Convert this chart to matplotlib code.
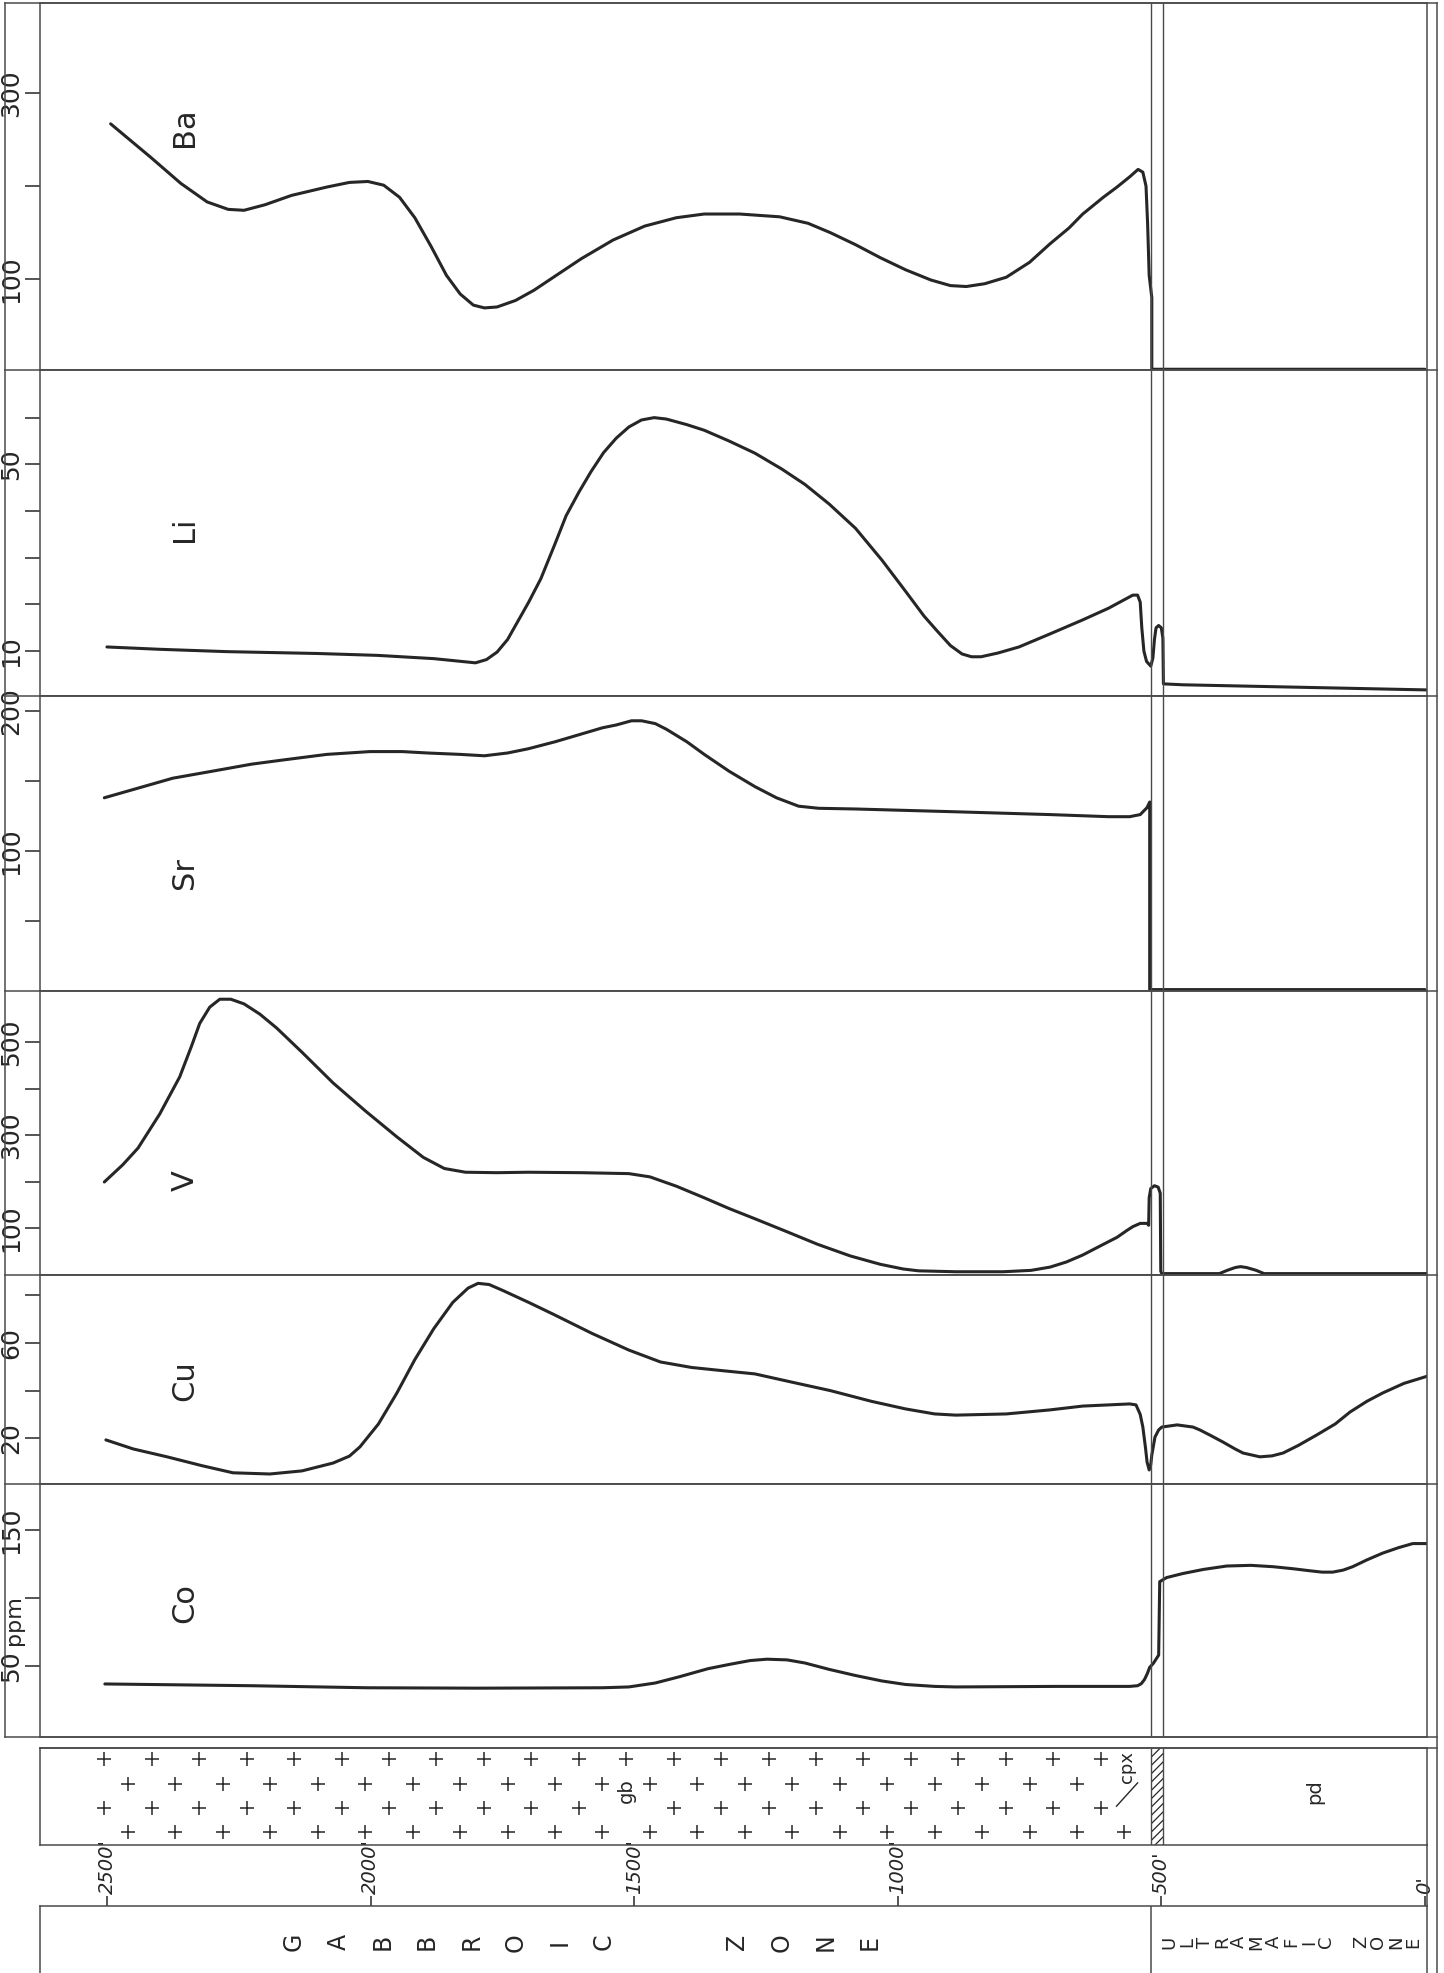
import numpy as np
import matplotlib
matplotlib.use('Agg')
import matplotlib.pyplot as plt

plt.rcParams['font.family'] = 'DejaVu Sans'
plt.rcParams['hatch.linewidth'] = 0.9

W, H = 1444, 1973
ink = '#262626'
frame = '#4a4a4a'

# depth in feet, ppm values
ba_depth = [2493, 2417, 2360, 2310, 2270, 2240, 2200, 2150, 2083, 2040, 2005, 1975, 1945, 1916,
            1885, 1856, 1830, 1805, 1784, 1760, 1725, 1690, 1653, 1600, 1540, 1480, 1420, 1367,
            1300, 1224, 1170, 1128, 1080, 1033, 985, 937, 900, 870, 835, 794, 750, 711, 675, 649,
            610, 584, 560, 544, 535, 529, 526, 523, 518, 518, 0]
ba_ppm = [267, 231, 203, 183, 175, 174, 180, 190, 199, 204, 205, 201, 188, 166,
          135, 104, 84, 72, 69, 70, 77, 88, 102, 122, 142, 157, 166, 170,
          170, 167, 160, 150, 137, 123, 110, 99, 93, 92, 95, 102, 118, 138, 155, 170,
          188, 199, 210, 218, 215, 200, 160, 104, 80, 3, 3]

li_depth = [2500, 2400, 2273, 2100, 1987, 1880, 1801, 1780, 1760, 1740, 1725, 1700, 1677, 1650,
            1629, 1605, 1582, 1558, 1534, 1510, 1486, 1462, 1439, 1400, 1367, 1320, 1271, 1220,
            1176, 1130, 1080, 1030, 985, 950, 925, 900, 878, 860, 842, 810, 770, 711, 649, 600,
            554, 545, 540, 537, 533, 528, 520, 516, 513, 510, 505, 500, 497, 496, 459, -4]
li_ppm = [10.9, 10.4, 9.9, 9.5, 9.1, 8.4, 7.5, 8.2, 9.8, 12.5, 15.5, 20.5, 25.5, 33,
          39, 44, 48.4, 52.5, 55.6, 58, 59.5, 60, 59.7, 58.5, 57.3, 55, 52.4, 49,
          45.7, 41.5, 36.3, 29.5, 22.8, 17.5, 14.3, 11.2, 9.4, 8.8, 8.8, 9.6, 10.9, 13.7, 16.7, 19.2,
          22, 22, 20.5, 15, 10, 7.8, 6.8, 8.5, 12.5, 15, 15.5, 15, 12.8, 3, 2.8, 1.7]

sr_depth = [2505, 2440, 2375, 2300, 2226, 2166, 2083, 2001, 1940, 1892, 1830, 1784, 1740, 1701,
            1650, 1605, 1560, 1534, 1505, 1486, 1460, 1439, 1400, 1367, 1320, 1271, 1230, 1188,
            1150, 1080, 890, 711, 600, 560, 540, 527, 522, 522, 0]
sr_ppm = [138, 145, 152, 157, 162, 165, 169, 171, 171, 170, 169, 168, 170, 173,
          178, 183, 188, 190, 193, 193, 191, 187, 178, 169, 157, 146, 138, 132,
          130.5, 130, 128, 126, 124.5, 124.5, 126, 131, 135, 1, 1]

v_depth = [2505, 2470, 2441, 2400, 2362, 2340, 2324, 2305, 2286, 2265, 2240, 2210, 2178, 2130,
           2071, 2010, 1950, 1900, 1860, 1820, 1760, 1701, 1600, 1510, 1470, 1420, 1367, 1320,
           1271, 1210, 1152, 1090, 1033, 990, 961, 890, 800, 747, 711, 680, 649, 615, 584, 565,
           554, 540, 527, 524, 523, 520, 513, 506, 502, 501, 499, 390, 375, 360, 350, 338, 320,
           305, -4]
v_ppm = [199, 236, 272, 345, 425, 490, 540, 575, 592, 592, 582, 560, 530, 478,
         412, 352, 296, 252, 228, 220, 219, 220, 219, 217, 210, 190, 165, 142,
         120, 92, 65, 40, 22, 12, 8, 6, 6, 9, 16, 27, 42, 62, 80, 95,
         103, 110, 110, 106, 165, 185, 191, 188, 175, 7, 2, 2, 9, 15, 17, 15, 9,
         2, 2]

cu_depth = [2502, 2450, 2386, 2320, 2261, 2191, 2130, 2071, 2040, 2020, 1985, 1950, 1916, 1880,
            1844, 1815, 1796, 1775, 1749, 1700, 1653, 1580, 1510, 1450, 1391, 1330, 1271, 1200,
            1128, 1050, 985, 930, 890, 794, 711, 649, 560, 548, 540, 535, 530, 527, 523, 520,
            518, 512, 505, 499, 470, 440, 427, 405, 383, 360, 345, 313, 290, 269, 240, 205,
            170, 142, 110, 80, 40, -4]
cu_ppm = [19.3, 15.5, 12.2, 8.5, 5.5, 5, 6.3, 9.6, 12.5, 16.4, 26, 39, 53, 66,
          77, 83, 85, 84.5, 82, 77, 72, 64, 57, 52, 49.7, 48.3, 47, 43.5,
          40, 35.5, 32.3, 30.2, 29.7, 30.2, 31.9, 33.5, 34.4, 34, 30, 24.7, 16, 10, 6.7, 9,
          13, 20.5, 23.5, 24.7, 25.6, 24.7, 23.5, 21, 18.4, 15.5, 13.8, 12.2, 12.6, 13.8, 17, 21.4,
          26, 31, 35.5, 39, 43, 46]

co_depth = [2504, 2226, 2007, 1796, 1560, 1510, 1460, 1415, 1360, 1319, 1280, 1248, 1210, 1176,
            1130, 1080, 1030, 985, 930, 890, 700, 560, 545, 538, 532, 527, 522, 515, 505, 503,
            490, 459, 420, 376, 330, 288, 250, 218, 195, 175, 155, 137, 110, 80, 50, 23, -4]
co_ppm = [36.8, 35.5, 34, 33.7, 34, 34.6, 37.5, 42, 48, 51.2, 54, 55, 54.5, 52.2,
          47.5, 43, 39, 36.4, 35, 34.6, 35, 35, 35.5, 37, 40, 44, 49, 52, 58, 112,
          115, 118, 121, 123.5, 124, 123, 121.5, 120, 119, 119, 120.5, 123, 128, 133, 137, 140, 140]

# contacts gabbro / clinopyroxenite / peridotite (ft)
cpx_top = 520
cpx_base = 497

depth_ticks = [2500, 2000, 1500, 1000, 500, 0]
depth_labels = ["2500'", "2000'", "1500'", "1000'", "500'", "0'"]

panels = [
    ('Ba', ba_depth, ba_ppm, (2.2, 397), [100, 200, 300], ['100', '', '300'], 263),
    ('Li', li_depth, li_ppm, (0.4, 70.2), [10, 20, 30, 40, 50, 60], ['10', '', '', '', '50', ''], 36),
    ('Sr', sr_depth, sr_ppm, (0, 210.7), [50, 100, 150, 200], ['', '100', '', '200'], 84),
    ('V', v_depth, v_ppm, (-1, 609.7), [100, 200, 300, 400, 500], ['100', '', '300', '', '500'], 203),
    ('Cu', cu_depth, cu_ppm, (0.8, 88.5), [20, 40, 60, 80], ['20', '', '60', ''], 44),
    ('Co', co_depth, co_ppm, (-2.2, 183.8), [50, 100, 150], ['50', '', '150'], 96),
]
rows = [3, 370, 696, 991, 1275, 1484, 1737]

XL, XR = 40, 1427
xlim = (2627, -4)


def fig_box(x0, y0, x1, y1):
    return [x0 / W, 1 - y1 / H, (x1 - x0) / W, (y1 - y0) / H]


fig = plt.figure(figsize=(W / 100, H / 100), dpi=100)
fig.patch.set_facecolor('white')

for i, (name, d, v, ylim, ticks, labels, label_y) in enumerate(panels):
    ax = fig.add_axes(fig_box(XL, rows[i], XR, rows[i + 1]))
    ax.set_xlim(*xlim)
    ax.set_ylim(*ylim)
    ax.plot(d, v, color=ink, lw=2.2, solid_joinstyle='round', solid_capstyle='round')
    for c in (cpx_top, cpx_base):
        ax.axvline(c, color=frame, lw=1.0)
    ax.set_xticks([])
    ax.set_yticks(ticks)
    ax.set_yticklabels(labels)
    ax.tick_params(axis='y', direction='out', length=11, width=1.1, pad=1,
                   labelsize=18, labelrotation=90, colors=ink)
    for lbl in ax.get_yticklabels():
        lbl.set_va('center')
    for s in ax.spines.values():
        s.set_linewidth(1.1)
        s.set_color(frame)
    ax.text(2352, label_y, name, rotation=90, ha='center', va='center',
            fontsize=22, color=ink)
    if name == 'Co':
        ax.text(-0.0185, 84, 'ppm', transform=ax.get_yaxis_transform(), rotation=90,
                ha='center', va='center', fontsize=16, color=ink, clip_on=False)

# lithology strip
lith = fig.add_axes(fig_box(XL, 1748, XR, 1845))
lith.set_xlim(*xlim)
lith.set_ylim(0, 1)
lith.set_xticks([])
lith.set_yticks([])
for s in lith.spines.values():
    s.set_linewidth(1.1)
    s.set_color(frame)
row_a = np.arange(2505, 600, -90)
row_b = np.arange(2460, 640, -90)
row_b_low = np.arange(2460, 560, -90)
row_a_mid = row_a[np.abs(row_a - 1515) > 20]
lith.plot(row_a, np.full(len(row_a), 0.89), '+', ms=10, mew=1.1, color=ink)
lith.plot(row_b, np.full(len(row_b), 0.63), '+', ms=10, mew=1.1, color=ink)
lith.plot(row_a_mid, np.full(len(row_a_mid), 0.38), '+', ms=10, mew=1.1, color=ink)
lith.plot(row_b_low, np.full(len(row_b_low), 0.13), '+', ms=10, mew=1.1, color=ink)
lith.axvspan(cpx_base, cpx_top, fill=False, hatch='////', lw=0, edgecolor=ink)
for c in (cpx_top, cpx_base):
    lith.axvline(c, color=frame, lw=1.0)
lith.text(1515, 0.56, 'gb', rotation=90, ha='center', va='center', fontsize=14, color=ink)
lith.text(565, 0.80, 'cpx', rotation=90, ha='center', va='center', fontsize=13, color=ink)
lith.plot([585, 545], [0.40, 0.64], color=ink, lw=1.0)
lith.text(209, 0.55, 'pd', rotation=90, ha='center', va='center', fontsize=14, color=ink)

# depth scale
dax = fig.add_axes(fig_box(XL, 1845, XR, 1906))
dax.set_xlim(*xlim)
dax.set_ylim(0, 1)
dax.axis('off')
dax.vlines(depth_ticks, 0, 0.17, color=ink, lw=1.1)
for dp, lab in zip(depth_ticks, depth_labels):
    dax.text(dp, 0.19, lab, rotation=90, ha='center', va='bottom', fontsize=14,
             style='italic', color=ink)

# zone boxes
zax = fig.add_axes(fig_box(XL, 1906, XR, 1973))
zax.set_xlim(*xlim)
zax.set_ylim(0, 1)
zax.set_xticks([])
zax.set_yticks([])
zax.spines['bottom'].set_visible(False)
for s in zax.spines.values():
    s.set_linewidth(1.1)
    s.set_color(frame)
zax.axvline(cpx_top, color=frame, lw=1.1)
for k, ch in enumerate('GABBROIC  ZONE'):
    if ch != ' ':
        zax.text(2145 - 84 * k, 0.46, ch, rotation=90, ha='center', va='center',
                 fontsize=17, color=ink)
for k, ch in enumerate('ULTRAMAFIC ZONE'):
    if ch != ' ':
        zax.text(484 - 33 * k, 0.46, ch, rotation=90, ha='center', va='center',
                 fontsize=13, color=ink)

# outer frame of the sheet
ov = fig.add_axes([0, 0, 1, 1])
ov.set_xlim(0, W)
ov.set_ylim(H, 0)
ov.axis('off')
ov.patch.set_alpha(0)
ov.plot([5, 1437], [3, 3], color=frame, lw=1.1)
ov.plot([5, 5], [3, 1737], color=frame, lw=1.1)
ov.plot([1437, 1437], [3, 1973], color=frame, lw=1.1)
ov.plot([XR, XR], [1845, 1906], color=frame, lw=1.1)
for y in rows[1:]:
    ov.plot([5, 1437], [y, y], color=frame, lw=1.1)
ov.plot([XL, 1437], [1748, 1748], color=frame, lw=1.1)

fig.savefig('out.png', dpi=100)
